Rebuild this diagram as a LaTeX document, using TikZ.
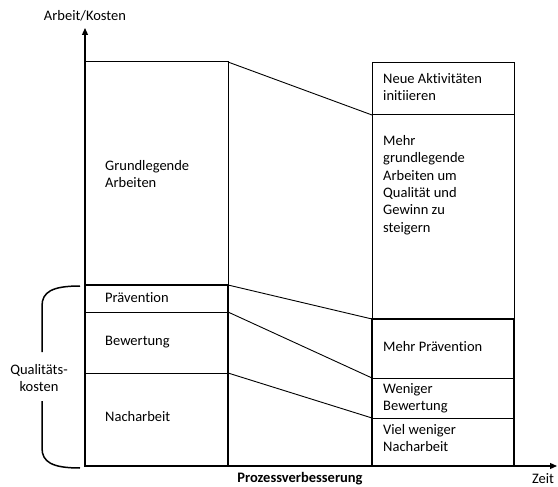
\documentclass[tikz,border=0pt]{standalone}
\usepackage{fontspec}
\setmainfont{Carlito}[Ligatures=NoCommon]
\usetikzlibrary{arrows.meta}
\begin{document}
\begin{tikzpicture}[x=1pt,y=-1pt,
  box/.style={draw, line width=1pt, anchor=north west, inner sep=0pt, outer sep=0pt},
  thickbox/.style={draw, line width=2.6pt, anchor=north west, inner sep=0pt, outer sep=0pt},
  lbl/.style={anchor=west, align=left, inner sep=0pt, font=\fontsize{14.5}{17.4}\selectfont},
  ctr/.style={anchor=center, align=center, inner sep=0pt, font=\fontsize{14.5}{17.4}\selectfont},
  conn/.style={line width=0.9pt},
  axis/.style={line width=1.2pt, -{Triangle[length=7pt,width=6pt]}}]
\useasboundingbox (0,0) rectangle (558,487);
% left column
\node[box, minimum width=143pt, minimum height=223pt] (gw) at (85,62) {};
\node[box, minimum width=143pt, minimum height=27pt] (prae) at (85,285) {};
\node[box, minimum width=143pt, minimum height=61pt] (bew) at (85,312) {};
\node[box, minimum width=143pt, minimum height=93pt] (nach) at (85,373) {};
\node[thickbox, minimum width=143pt, minimum height=181pt] (qk) at (85,285) {};
% right column
\node[box, minimum width=142pt, minimum height=52.5pt] (neu) at (372,62.5) {};
\node[box, minimum width=142pt, minimum height=204pt] (mehr) at (372,115) {};
\node[box, minimum width=142pt, minimum height=59pt] (mp) at (372,319) {};
\node[box, minimum width=142pt, minimum height=40pt] (wb) at (372,378) {};
\node[box, minimum width=142pt, minimum height=48pt] (vn) at (372,418) {};
\node[thickbox, minimum width=142pt, minimum height=147pt] (qk2) at (372,319) {};
% connectors
\draw[conn] (gw.north east) -- (neu.south west);
\draw[conn] (prae.north east) -- (mp.north west);
\draw[conn] (bew.north east) -- (wb.north west);
\draw[conn] (nach.north east) -- (vn.north west);
% axes
\coordinate (o) at (85,466);
\coordinate (ytip) at (85,28);
\coordinate (xtip) at (557,466);
\draw[axis] (o) -- (ytip);
\draw[axis] (o) -- (xtip);
% labels
\node[ctr] (ylab) at (85,16) {Arbeit/Kosten};
\node[ctr, font=\fontsize{14.5}{17.4}\selectfont\bfseries] (xlab) at (300,478.5) {Prozessverbesserung};
\node[ctr] (zeit) at (543,478.5) {Zeit};
\node[lbl] (t1) at (105,174) {Grundlegende\\Arbeiten};
\node[lbl] (t2) at (105,298) {Prävention};
\node[lbl] (t3) at (105,342) {Bewertung};
\node[lbl] (t4) at (105,417) {Nacharbeit};
\node[lbl] (t5) at (383,87) {Neue Aktivitäten\\initiieren};
\node[lbl] (t6) at (383,185) {Mehr\\grundlegende\\Arbeiten um\\Qualität und\\Gewinn zu\\steigern};
\node[lbl] (t7) at (383,347) {Mehr Prävention};
\node[lbl] (t8) at (383,398) {Weniger\\Bewertung};
\node[lbl] (t9) at (383,438) {Viel weniger\\Nacharbeit};
% brace
\coordinate (b1) at (80,286);
\coordinate (b2) at (42,352);
\coordinate (b3) at (42,401);
\coordinate (b4) at (80,468);
\draw[line width=1.5pt] (b1) .. controls (52,286) and (42,292) .. (42,306) -- (b2);
\draw[line width=1.5pt] (b3) -- (42,448) .. controls (42,462) and (52,468) .. (b4);
\node[ctr] (qlab) at (39,378) {Qualitäts-\\kosten};
\end{tikzpicture}
\end{document}
